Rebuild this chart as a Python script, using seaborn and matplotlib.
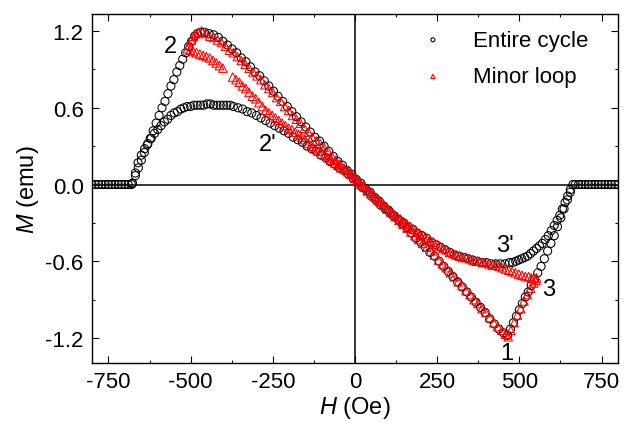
import matplotlib
matplotlib.use('Agg')
import matplotlib.pyplot as plt
import seaborn as sns
import pandas as pd
from matplotlib.ticker import MultipleLocator

# ---- Entire cycle (black circles), H in Oe, M in emu ----
bk_flat_left_h = [-800, -790, -780, -770, -760, -750, -740, -730, -720, -710, -700, -690, -680]
bk_flat_left_m = [0.0, 0.0, 0.0, 0.0, 0.0, 0.0, 0.0, 0.0, 0.0, 0.0, 0.0, 0.0, 0.0]

bk_flat_right_h = [670, 680, 690, 700, 710, 720, 730, 740, 750, 760, 770, 780, 790, 800]
bk_flat_right_m = [0.0, 0.0, 0.0, 0.0, 0.0, 0.0, 0.0, 0.0, 0.0, 0.0, 0.0, 0.0, 0.0, 0.0]

# steep rise up to point 2
bk_rise_h = [-677, -668, -659, -650, -641, -632, -623, -614, -605, -596, -587, -578,
             -569, -560, -551, -542, -533, -524, -515, -506, -497, -488, -479, -470]
bk_rise_m = [0.01, 0.07, 0.13, 0.19, 0.25, 0.31, 0.36, 0.42, 0.48, 0.54, 0.60, 0.65,
             0.71, 0.77, 0.82, 0.88, 0.93, 0.98, 1.03, 1.08, 1.12, 1.16, 1.18, 1.19]

# from 2 down to point 1
bk_down_h = [-458, -444, -430, -416, -402, -388, -374, -360, -346, -332, -318, -304,
             -290, -276, -262, -248, -234, -220, -206, -192, -178, -164, -150, -136,
             -122, -108, -94, -80, -66, -52, -38, -24, -10, 4, 18, 32, 46, 60, 74, 88,
             102, 116, 130, 144, 158, 172, 186, 200, 214, 228, 242, 256, 270, 284, 298,
             312, 326, 340, 354, 368, 382, 396, 410, 424, 438, 452, 464]
bk_down_m = [1.19, 1.18, 1.17, 1.15, 1.12, 1.09, 1.06, 1.03, 0.99, 0.96, 0.92, 0.88,
             0.85, 0.81, 0.77, 0.73, 0.69, 0.65, 0.61, 0.57, 0.53, 0.49, 0.45, 0.41,
             0.37, 0.34, 0.30, 0.26, 0.22, 0.18, 0.15, 0.11, 0.08, 0.04, 0.01, -0.03,
             -0.06, -0.10, -0.13, -0.17, -0.20, -0.24, -0.27, -0.31, -0.34, -0.38, -0.42,
             -0.45, -0.49, -0.53, -0.56, -0.60, -0.64, -0.68, -0.72, -0.76, -0.80, -0.84,
             -0.88, -0.92, -0.96, -1.00, -1.05, -1.09, -1.13, -1.16, -1.18]

# from 1 back up to zero
bk_up_h = [473, 482, 491, 500, 509, 518, 527, 536, 546, 556, 566, 576, 586, 596, 606,
           616, 626, 636, 646, 655, 663]
bk_up_m = [-1.13, -1.08, -1.03, -0.98, -0.93, -0.88, -0.84, -0.79, -0.74, -0.69, -0.64,
           -0.58, -0.52, -0.46, -0.40, -0.33, -0.26, -0.19, -0.12, -0.06, 0.0]

# return sweep down to point 3'
bk_ret_h = [655, 647, 639, 631, 623, 615, 606, 597, 588, 579, 570, 561, 552, 543, 534,
            525, 516, 507, 498, 489, 480, 470]
bk_ret_m = [-0.04, -0.09, -0.14, -0.19, -0.24, -0.28, -0.32, -0.36, -0.40, -0.43, -0.46,
            -0.48, -0.50, -0.52, -0.54, -0.56, -0.57, -0.58, -0.59, -0.60, -0.61, -0.61]

# from 3' through the origin to 2'
bk_mid_h = [456, 442, 428, 414, 400, 386, 372, 358, 344, 330, 316, 302, 288, 274, 260,
            246, 232, 218, 204, 190, 176, 162, 148, 134, 120, 106, 92, 78, 64, 50, 36,
            22, 8, -6, -20, -34, -48, -62, -76, -90, -104, -118, -132, -146, -160, -174,
            -188, -202, -216, -230, -244, -258, -272, -286, -300, -314, -328, -342, -356, -370]
bk_mid_m = [-0.62, -0.62, -0.62, -0.62, -0.61, -0.61, -0.60, -0.59, -0.58, -0.57, -0.56,
            -0.55, -0.53, -0.51, -0.49, -0.47, -0.45, -0.42, -0.40, -0.38, -0.35, -0.33,
            -0.30, -0.28, -0.25, -0.22, -0.19, -0.16, -0.12, -0.09, -0.05, -0.02, 0.02,
            0.05, 0.08, 0.11, 0.13, 0.16, 0.18, 0.21, 0.23, 0.26, 0.28, 0.30, 0.33, 0.35,
            0.37, 0.40, 0.42, 0.44, 0.46, 0.48, 0.50, 0.52, 0.54, 0.56, 0.57, 0.59, 0.60, 0.61]

# plateau at 2' and fall back to zero
bk_plat_h = [-380, -390, -400, -410, -420, -430, -440, -450, -460, -470, -480, -490, -500]
bk_plat_m = [0.62, 0.62, 0.62, 0.62, 0.62, 0.62, 0.63, 0.63, 0.62, 0.62, 0.62, 0.62, 0.61]
bk_fall_h = [-510, -520, -530, -540, -550, -560, -570, -580, -590, -600, -610, -620,
             -630, -640, -650, -660, -668, -677]
bk_fall_m = [0.61, 0.60, 0.59, 0.57, 0.56, 0.54, 0.51, 0.49, 0.46, 0.43, 0.40, 0.36,
             0.32, 0.28, 0.23, 0.17, 0.09, 0.01]

# ---- Minor loop (red triangles) ----
# from 3 back through the origin
rd_top_h = [552, 544, 536, 528, 518, 508, 498, 488, 478, 468, 458, 448, 438, 428, 418,
            408, 398, 388, 378, 368, 358, 348, 338, 328, 318, 308, 298, 288, 278, 268,
            258, 248, 238, 228, 218, 208, 198, 188, 178, 168, 158, 148, 138, 128, 118,
            108, 98, 88, 78, 68, 58, 48, 38, 28, 18, 8, -2]
rd_top_m = [-0.73, -0.73, -0.73, -0.72, -0.72, -0.71, -0.70, -0.69, -0.68, -0.67, -0.66,
            -0.65, -0.64, -0.63, -0.63, -0.62, -0.61, -0.61, -0.60, -0.60, -0.59, -0.58,
            -0.57, -0.57, -0.56, -0.55, -0.54, -0.53, -0.51, -0.50, -0.48, -0.47, -0.45,
            -0.44, -0.42, -0.40, -0.39, -0.37, -0.35, -0.33, -0.31, -0.29, -0.27, -0.25,
            -0.23, -0.21, -0.19, -0.16, -0.14, -0.12, -0.09, -0.07, -0.05, -0.02, 0.0,
            0.03, 0.05]

# lower red branch up to point 2 (with the small gap near -390 Oe)
rd_low_h = [-12, -22, -32, -42, -52, -62, -72, -82, -92, -102, -112, -122, -132, -142,
            -152, -162, -172, -182, -192, -202, -212, -222, -232, -242, -252, -262, -272,
            -282, -292, -302, -312, -322, -332, -342, -352, -362, -372,
            -402, -412, -422, -432, -442, -452, -462, -472, -482, -492, -502, -510]
rd_low_m = [0.08, 0.10, 0.12, 0.13, 0.15, 0.17, 0.19, 0.21, 0.23, 0.24, 0.26, 0.28, 0.30,
            0.32, 0.35, 0.37, 0.39, 0.41, 0.43, 0.44, 0.46, 0.48, 0.50, 0.52, 0.54, 0.56,
            0.58, 0.61, 0.64, 0.67, 0.69, 0.72, 0.75, 0.77, 0.80, 0.82, 0.84,
            0.91, 0.93, 0.95, 0.97, 0.99, 1.00, 1.01, 1.02, 1.03, 1.04, 1.05, 1.06]

# jump to the peak
rd_cusp_h = [-505, -499, -492, -484, -475, -466]
rd_cusp_m = [1.09, 1.13, 1.16, 1.18, 1.19, 1.20]

# down along the main branch to point 1
rd_down_h = [-454, -442, -430, -418, -406, -394, -382, -370, -358, -346, -334, -322, -310,
             -298, -286, -274, -262, -250, -238, -226, -214, -202, -190, -178, -166, -154,
             -142, -130, -118, -106, -94, -82, -70, -58, -46, -34, -22, -10, 2, 14, 26, 38,
             50, 62, 74, 86, 98, 110, 122, 134, 146, 158, 170, 182, 194, 206, 218, 230, 242,
             254, 266, 278, 290, 302, 314, 326, 338, 350, 362, 374, 386, 398, 410, 422, 434,
             446, 458]
rd_down_m = [1.18, 1.16, 1.15, 1.13, 1.11, 1.08, 1.05, 1.03, 1.00, 0.97, 0.94, 0.91, 0.88,
             0.85, 0.82, 0.78, 0.75, 0.72, 0.68, 0.65, 0.61, 0.58, 0.54, 0.51, 0.48, 0.44,
             0.41, 0.37, 0.34, 0.32, 0.29, 0.26, 0.22, 0.19, 0.16, 0.13, 0.11, 0.08, 0.05,
             0.02, -0.01, -0.04, -0.07, -0.10, -0.13, -0.16, -0.19, -0.22, -0.25, -0.28,
             -0.31, -0.34, -0.37, -0.40, -0.43, -0.46, -0.49, -0.52, -0.55, -0.59, -0.62,
             -0.65, -0.69, -0.72, -0.76, -0.79, -0.83, -0.86, -0.90, -0.93, -0.97, -1.00,
             -1.04, -1.08, -1.11, -1.14, -1.17]

# from 1 up to point 3
rd_up_h = [466, 474, 484, 494, 504, 514, 524, 534, 544, 550]
rd_up_m = [-1.19, -1.14, -1.08, -1.02, -0.97, -0.91, -0.86, -0.81, -0.77, -0.75]

# labels of the turning points
pt_text = ['2', "2'", "3'", '3', '1']
pt_h = [-560, -265, 455, 590, 463]
pt_m = [1.08, 0.32, -0.47, -0.82, -1.32]

entire = pd.DataFrame({
    'H': bk_flat_left_h + bk_rise_h + bk_down_h + bk_up_h + bk_flat_right_h
         + bk_ret_h + bk_mid_h + bk_plat_h + bk_fall_h,
    'M': bk_flat_left_m + bk_rise_m + bk_down_m + bk_up_m + bk_flat_right_m
         + bk_ret_m + bk_mid_m + bk_plat_m + bk_fall_m,
})
minor = pd.DataFrame({
    'H': rd_top_h + rd_low_h + rd_cusp_h + rd_down_h + rd_up_h,
    'M': rd_top_m + rd_low_m + rd_cusp_m + rd_down_m + rd_up_m,
})

sns.set_style('ticks')
plt.rcParams['font.family'] = ['Liberation Sans', 'DejaVu Sans']
plt.rcParams['mathtext.fontset'] = 'custom'
plt.rcParams['mathtext.rm'] = 'Liberation Sans'
plt.rcParams['mathtext.it'] = 'Liberation Sans:italic'
plt.rcParams['text.color'] = 'black'
plt.rcParams['axes.labelcolor'] = 'black'
plt.rcParams['axes.unicode_minus'] = False

fig = plt.figure(figsize=(6.35, 4.31), dpi=100)
ax = fig.add_axes([0.1449, 0.1555, 0.8283, 0.8097])

ax.axhline(0, color='black', lw=1.1, zorder=1)
ax.axvline(0, color='black', lw=1.1, zorder=1)

sns.scatterplot(data=entire, x='H', y='M', marker='o', s=34, facecolor='none',
                edgecolor='black', linewidth=0.75, label='Entire cycle', ax=ax, zorder=3)
sns.scatterplot(data=minor, x='H', y='M', marker='^', s=38, facecolor='none',
                edgecolor='red', linewidth=0.75, label='Minor loop', ax=ax, zorder=4)

for t, h, m in zip(pt_text, pt_h, pt_m):
    ax.text(h, m, t, fontsize=17, ha='center', va='center', color='black')

ax.set_xlim(-800, 800)
ax.set_ylim(-1.395, 1.333)
ax.xaxis.set_major_locator(MultipleLocator(250))
ax.xaxis.set_minor_locator(MultipleLocator(125))
ax.yaxis.set_major_locator(MultipleLocator(0.6))
ax.yaxis.set_minor_locator(MultipleLocator(0.3))
ax.yaxis.set_major_formatter(plt.FuncFormatter(lambda v, p: f'{v:.1f}'))

ax.tick_params(which='both', direction='in', top=True, right=True, width=0.8,
               labelsize=16, colors='black')
ax.tick_params(which='major', length=5)
ax.tick_params(which='minor', length=2.5)
ax.tick_params(axis='x', pad=6)
ax.tick_params(axis='y', pad=6)
for sp in ax.spines.values():
    sp.set_linewidth(1.0)
    sp.set_color('black')

ax.set_xlabel('$\\it{H}$ (Oe)', fontsize=17, labelpad=1)
ax.set_ylabel('$\\it{M}$ (emu)', fontsize=17, labelpad=3)

ax.legend(loc='upper left', bbox_to_anchor=(0.627, 0.955), frameon=False, fontsize=16,
          markerscale=0.5, handlelength=1.0, handletextpad=1.3, labelspacing=0.7,
          borderpad=0, borderaxespad=0)

fig.savefig('out.png', dpi=100)
